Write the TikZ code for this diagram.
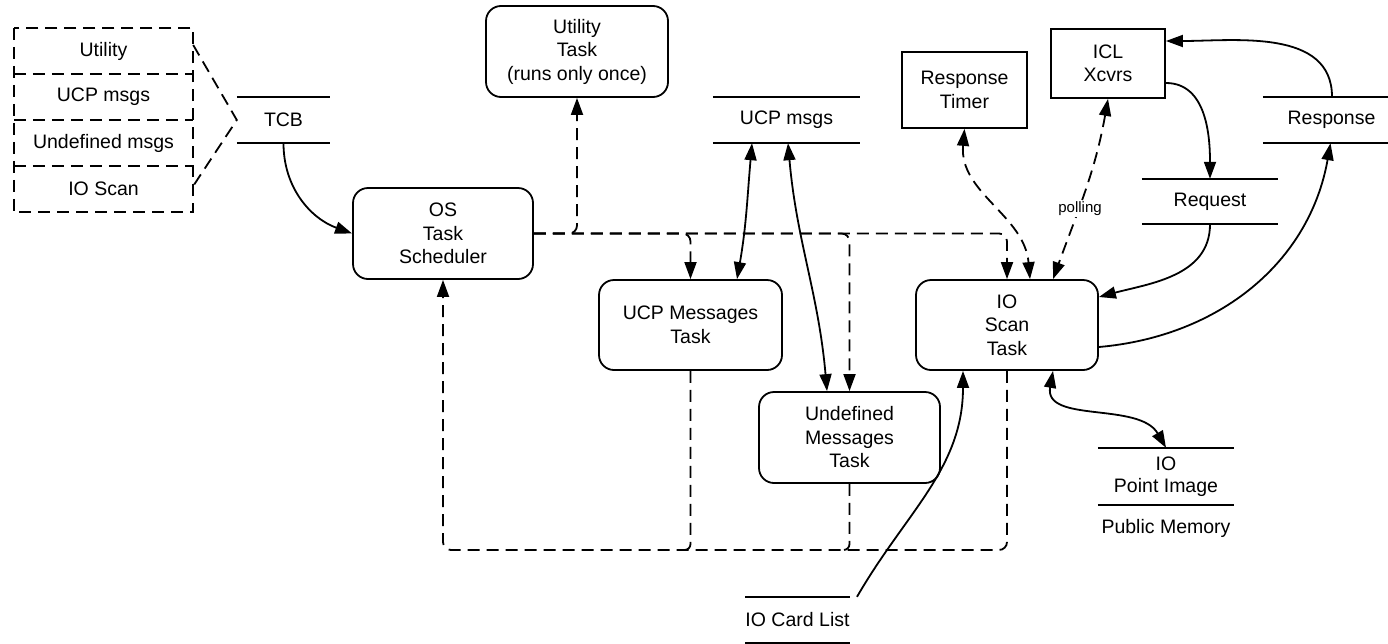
\documentclass[tikz,border=0pt]{standalone}
\usepackage{fontspec}
\setmainfont{Liberation Sans}
\usetikzlibrary{arrows.meta,calc}
\begin{document}
\begin{tikzpicture}[x=1pt,y=1pt,
  every node/.style={font=\fontsize{19.5}{23.5}\selectfont, align=center, inner sep=0pt},
  lw/.style={line width=1.8pt},
  task/.style={draw, lw, rounded corners=15pt},
  ext/.style={draw, lw},
  stk/.style={minimum width=179pt, minimum height=46pt},
  dsh/.style={dash pattern=on 12pt off 7pt},
  tip/.tip={Triangle[length=17pt,width=12pt]},
  flow/.style={lw, -tip},
  bflow/.style={lw, tip-tip},
]
\useasboundingbox (0,0) rectangle (1388,-643);

% stacked dashed box
\node[stk] (q1) at (103.5,-51) {Utility};
\node[stk] (q2) at (103.5,-97) {UCP msgs};
\node[stk] (q3) at (103.5,-143) {Undefined msgs};
\node[stk] (q4) at (103.5,-189) {IO Scan};
\draw[lw, dsh] (q1.north west) rectangle (q4.south east);
\foreach \s in {q1,q2,q3}{
  \draw[lw, dsh] (\s.south west) -- (\s.south east);
}

% stores
\node[minimum width=93pt, minimum height=46pt] (tcb) at (283.5,-120) {TCB};
\node[minimum width=147pt, minimum height=46pt] (ucpm) at (786.5,-120) {UCP msgs};
\node[minimum width=125pt, minimum height=46pt] (resp) at (1325.5,-120) {\hspace*{12pt}Response};
\node[minimum width=136pt, minimum height=45pt] (req) at (1210,-201.5) {Request};
\node[minimum width=136pt, minimum height=57pt] (ipi) at (1166,-476.5) {IO\\[-2pt]Point Image};
\node (pubmem) at (1166,-528) {Public Memory};
\node[minimum width=101pt, minimum height=46pt] (card) at (797.5,-620) {IO Card List};
\foreach \s in {tcb,ucpm,resp,req,ipi,card}{
  \draw[lw] (\s.north west) -- (\s.north east);
  \draw[lw] (\s.south west) -- (\s.south east);
}

% tasks
\node[task, minimum width=180pt, minimum height=91pt] (sched) at (443,-233.5) {OS\\Task\\Scheduler};
\node[task, minimum width=182pt, minimum height=91pt] (util) at (577,-51.5) {Utility\\Task\\(runs only once)};
\node[task, minimum width=183pt, minimum height=90pt] (ucpt) at (690.5,-325) {UCP Messages\\Task};
\node[task, minimum width=181pt, minimum height=91pt] (undt) at (849.5,-437.5) {Undefined\\Messages\\Task};
\node[task, minimum width=182pt, minimum height=90pt] (ioscan) at (1007,-325) {IO\\Scan\\Task};

% externals
\node[ext, minimum width=125pt, minimum height=76pt] (timer) at (964.5,-90) {Response\\Timer};
\node[ext, minimum width=114pt, minimum height=69pt] (icl) at (1108,-63.5) {ICL\\Xcvrs};

% stack to TCB
\draw[lw, dsh] ([yshift=6pt]q1.east) -- (tcb.west) -- ([yshift=3pt]q4.east);

% TCB to scheduler
\draw[flow] (tcb.south) to[out=-90,in=160] (sched.west);

% scheduler dispatch (dashed)
\draw[flow, dsh, rounded corners=8pt] (sched.east) -| (util.south);
\draw[flow, dsh, rounded corners=8pt] (sched.east) -| (ucpt.north);
\draw[flow, dsh, rounded corners=8pt] (sched.east) -| (undt.north);
\draw[flow, dsh, rounded corners=8pt] (sched.east) -| (ioscan.north);

% return to scheduler (dashed)
\coordinate (ret) at (0,-550);
\draw[flow, dsh, rounded corners=8pt] (ioscan.south) |- (sched.south |- ret) -- (sched.south);
\draw[lw, dsh, rounded corners=6pt] (ucpt.south) |- ([xshift=-12pt]ucpt.south |- ret);
\draw[lw, dsh, rounded corners=6pt] (undt.south) |- ([xshift=-12pt]undt.south |- ret);

% UCP msgs store exchanges
\draw[bflow] ([xshift=-34.5pt]ucpm.south) to[out=-95,in=80] ([xshift=46.5pt]ucpt.north);
\draw[bflow] ([xshift=1.5pt]ucpm.south) to[out=-85,in=95] ([xshift=-22.5pt]undt.north);

% timer and polling
\draw[bflow, dsh] (timer.south) to[out=-95,in=95] ([xshift=23pt]ioscan.north);
\draw[bflow, dsh] (icl.south) to[out=-100,in=70] ([xshift=46pt]ioscan.north);
\node[font=\fontsize{15}{18}\selectfont, fill=white, inner sep=1pt] (poll) at (1080,-209) {polling};

% ICL / Request / Response
\draw[flow] ([yshift=-19.5pt]icl.east) to[out=0,in=90] (req.north);
\draw[flow] ([xshift=6.5pt]resp.north) to[out=90,in=0] ([yshift=22.5pt]icl.east);
\draw[flow] (req.south) to[out=-90,in=15] ([yshift=28pt]ioscan.east);
\draw[flow] ([yshift=-22pt]ioscan.east) to[out=5,in=-100] ([xshift=5pt]resp.south);

% IO point image and card list
\draw[bflow] ([xshift=46pt]ioscan.south) to[out=-100,in=120] (ipi.north);
\draw[flow] ([xshift=59.5pt]card.north) to[out=60,in=-90] ([xshift=-44pt]ioscan.south);
\end{tikzpicture}
\end{document}
